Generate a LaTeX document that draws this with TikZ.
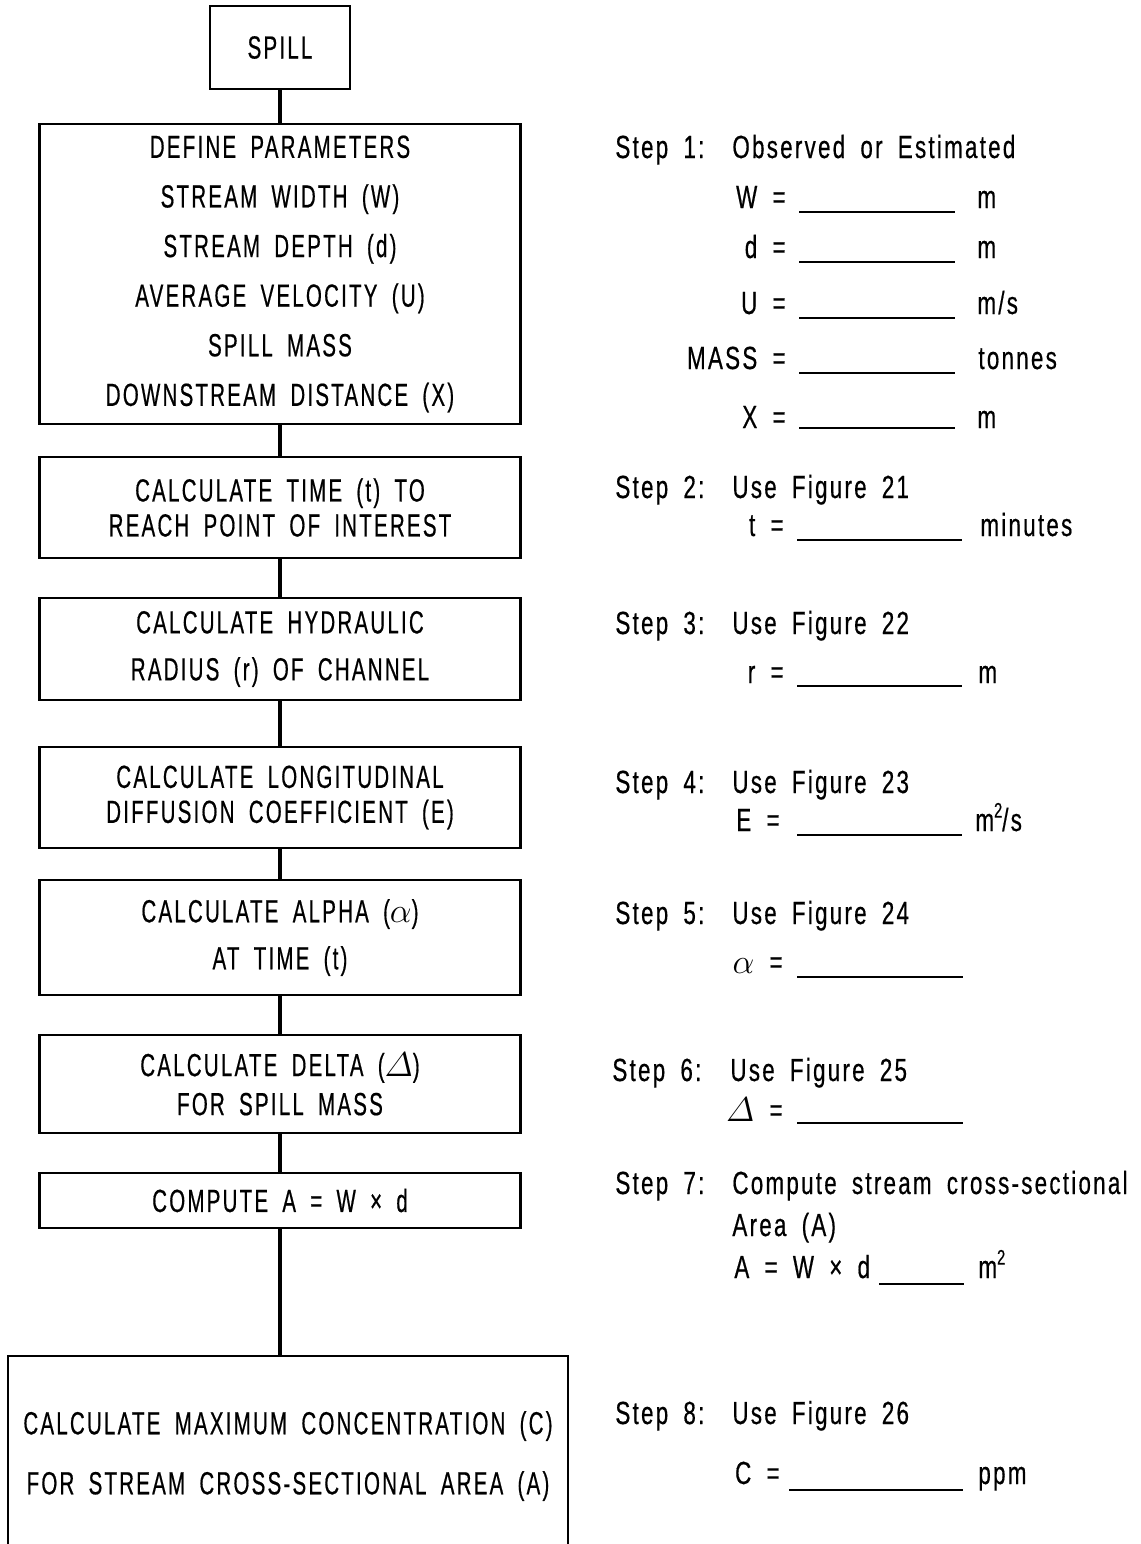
\documentclass[tikz,border=0pt]{standalone}
\usepackage{amsmath}
\usepackage{fontspec}
\setmainfont{Liberation Sans}[FakeStretch=0.64,LetterSpace=7,WordSpace=1.8,FakeBold=0.5]
\newfontfamily\stepfont{Liberation Sans}[FakeStretch=0.70,LetterSpace=7,WordSpace=1.8,FakeBold=0.5]
\newcommand{\sqr}{\raisebox{0.42em}{\fontsize{10.5}{10.5}\selectfont 2}}
\usetikzlibrary{positioning}

\begin{document}
\begin{tikzpicture}[x=0.5pt, y=-0.5pt,
    box/.style={draw, line width=1.4pt, inner sep=0pt, align=center,
                minimum width=240.5pt, font=\fontsize{16}{#1}\selectfont},
    box/.default=18,
    link/.style={line width=2.4pt},
    lbl/.style={inner sep=0pt, anchor=base west, font=\fontsize{16}{18}\stepfont},
    eqn/.style={lbl, anchor=base east},
    blank/.style={line width=1pt}
]
    \useasboundingbox (0,0) rectangle (1141,1544);
    \clip (0,0) rectangle (1141,1544);

    % flow chart
    \node[box, minimum width=70pt, minimum height=41.5pt] (spill) at (280,47.5) {SPILL};
    \node[box=24.8, minimum height=150pt] (define) at (280,274) {DEFINE PARAMETERS\\STREAM WIDTH (W)\\STREAM DEPTH (d)\\AVERAGE VELOCITY (U)\\SPILL MASS\\DOWNSTREAM DISTANCE (X)};
    \node[box=17.5, minimum height=50.5pt] (time) at (280,507.5) {CALCULATE TIME (t) TO\\REACH POINT OF INTEREST};
    \node[box=23.5, minimum height=51pt] (radius) at (280,649) {CALCULATE HYDRAULIC\\RADIUS (r) OF CHANNEL};
    \node[box=17.5, minimum height=50.5pt] (coeff) at (280,797.5) {CALCULATE LONGITUDINAL\\DIFFUSION COEFFICIENT (E)};
    \node[box=23.5, minimum height=57.5pt] (alpha) at (280,937.5) {CALCULATE ALPHA ($\alpha$)\\AT TIME (t)};
    \node[box=19.5, minimum height=49pt] (delta) at (280,1084) {CALCULATE DELTA ($\varDelta$)\\FOR SPILL MASS};
    \node[box, minimum height=27.5pt] (area) at (280,1200.5) {COMPUTE A = W × d};
    \node[box=30, minimum width=280pt, minimum height=100pt] (conc) at (288,1456) {CALCULATE MAXIMUM CONCENTRATION (C)\\FOR STREAM CROSS-SECTIONAL AREA (A)};

    \draw[link] (spill.south) -- (define.north);
    \draw[link] (define.south) -- (time.north);
    \draw[link] (time.south) -- (radius.north);
    \draw[link] (radius.south) -- (coeff.north);
    \draw[link] (coeff.south) -- (alpha.north);
    \draw[link] (alpha.south) -- (delta.north);
    \draw[link] (delta.south) -- (area.north);
    \draw[link] (area.south) -- (area.south |- conc.north);

    % step 1
    \node[lbl] (s1) at (615,158) {Step 1:};
    \node[lbl] (s1t) at (732,158) {Observed or Estimated};
    \node[eqn] (wq) at (786,208) {W =};
    \draw[blank] (799,212) -- (955,212);
    \node[lbl] (wu) at (977,208) {m};
    \node[eqn] (dq) at (786,258) {d =};
    \draw[blank] (799,262) -- (955,262);
    \node[lbl] (du) at (977,258) {m};
    \node[eqn] (uq) at (786,314) {U =};
    \draw[blank] (799,318) -- (955,318);
    \node[lbl] (uu) at (977,314) {m/s};
    \node[eqn] (mq) at (786,369) {MASS =};
    \draw[blank] (799,373) -- (955,373);
    \node[lbl] (mu) at (978,369) {tonnes};
    \node[eqn] (xq) at (786,428) {X =};
    \draw[blank] (799,428) -- (955,428);
    \node[lbl] (xu) at (977,428) {m};

    % step 2
    \node[lbl] (s2) at (615,498) {Step 2:};
    \node[lbl] (s2t) at (732,498) {Use Figure 21};
    \node[eqn] (tq) at (784,536) {t =};
    \draw[blank] (797,540) -- (962,540);
    \node[lbl] (tu) at (980,536) {minutes};

    % step 3
    \node[lbl] (s3) at (615,634) {Step 3:};
    \node[lbl] (s3t) at (732,634) {Use Figure 22};
    \node[eqn] (rq) at (784,683) {r =};
    \draw[blank] (797,686) -- (962,686);
    \node[lbl] (ru) at (978,683) {m};

    % step 4
    \node[lbl] (s4) at (615,793) {Step 4:};
    \node[lbl] (s4t) at (732,793) {Use Figure 23};
    \node[eqn] (eq) at (780,831) {E =};
    \draw[blank] (797,835) -- (962,835);
    \node[lbl] (eu) at (975,831) {m\sqr/s};

    % step 5
    \node[lbl] (s5) at (615,924) {Step 5:};
    \node[lbl] (s5t) at (732,924) {Use Figure 24};
    \node[eqn] (aq) at (783,973) {$\alpha$ =};
    \draw[blank] (797,977) -- (963,977);

    % step 6
    \node[lbl] (s6) at (612,1081) {Step 6:};
    \node[lbl] (s6t) at (730,1081) {Use Figure 25};
    \node[eqn] (gq) at (783,1121) {$\varDelta$ =};
    \draw[blank] (797,1123) -- (963,1123);

    % step 7
    \node[lbl] (s7) at (615,1194) {Step 7:};
    \node[lbl] (s7t) at (732,1194) {Compute stream cross-sectional};
    \node[lbl] (s7a) at (732,1236) {Area (A)};
    \node[lbl] (s7e) at (734,1278) {A = W × d};
    \draw[blank] (879,1284) -- (964,1284);
    \node[lbl] (s7u) at (978,1278) {m\sqr};

    % step 8
    \node[lbl] (s8) at (615,1424) {Step 8:};
    \node[lbl] (s8t) at (732,1424) {Use Figure 26};
    \node[eqn] (cq) at (780,1484) {C =};
    \draw[blank] (789,1490) -- (963,1490);
    \node[lbl] (cu) at (978,1484) {ppm};
\end{tikzpicture}
\end{document}
